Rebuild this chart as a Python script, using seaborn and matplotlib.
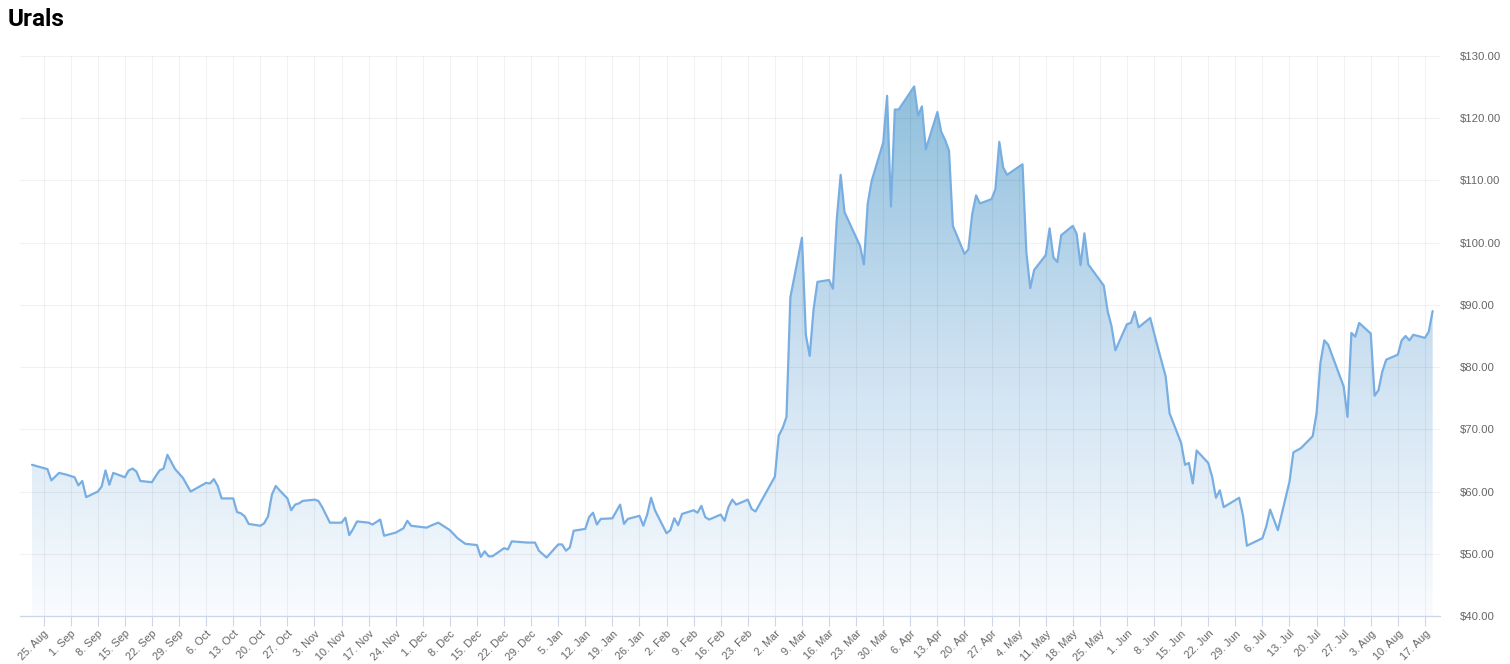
import numpy as np
import pandas as pd
import matplotlib
matplotlib.use("Agg")
import matplotlib.pyplot as plt
import matplotlib.dates as mdates
from matplotlib.colors import LinearSegmentedColormap
from matplotlib.patches import PathPatch
import seaborn as sns

# ---------------- data ----------------
title = "Urals"

dates = [
    # Aug / Sep 2021
    "2021-08-22", "2021-08-26", "2021-08-27", "2021-08-29", "2021-08-31",
    "2021-09-02", "2021-09-03", "2021-09-04", "2021-09-05", "2021-09-08",
    "2021-09-09", "2021-09-10", "2021-09-11", "2021-09-12", "2021-09-15",
    "2021-09-16", "2021-09-17", "2021-09-18", "2021-09-19", "2021-09-22",
    "2021-09-23", "2021-09-24", "2021-09-25", "2021-09-26", "2021-09-28",
    "2021-09-30",
    # Oct 2021
    "2021-10-02", "2021-10-04", "2021-10-06", "2021-10-07", "2021-10-08",
    "2021-10-09", "2021-10-10", "2021-10-13", "2021-10-14", "2021-10-15",
    "2021-10-16", "2021-10-17", "2021-10-20", "2021-10-21", "2021-10-22",
    "2021-10-23", "2021-10-24", "2021-10-25", "2021-10-27", "2021-10-28",
    "2021-10-29", "2021-10-30", "2021-10-31",
    # Nov 2021
    "2021-11-03", "2021-11-04", "2021-11-05", "2021-11-07", "2021-11-10",
    "2021-11-11", "2021-11-12", "2021-11-13", "2021-11-14", "2021-11-17",
    "2021-11-18", "2021-11-20", "2021-11-21", "2021-11-24", "2021-11-26",
    "2021-11-27", "2021-11-28",
    # Dec 2021
    "2021-12-02", "2021-12-03", "2021-12-05", "2021-12-08", "2021-12-10",
    "2021-12-12", "2021-12-15", "2021-12-16", "2021-12-17", "2021-12-18",
    "2021-12-19", "2021-12-22", "2021-12-23", "2021-12-24", "2021-12-28",
    "2021-12-30", "2021-12-31",
    # Jan 2022
    "2022-01-02", "2022-01-05", "2022-01-06", "2022-01-07", "2022-01-08",
    "2022-01-09", "2022-01-12", "2022-01-13", "2022-01-14", "2022-01-15",
    "2022-01-16", "2022-01-19", "2022-01-21", "2022-01-22", "2022-01-23",
    "2022-01-26", "2022-01-27", "2022-01-28", "2022-01-29", "2022-01-30",
    # Feb 2022
    "2022-02-02", "2022-02-03", "2022-02-04", "2022-02-05", "2022-02-06",
    "2022-02-09", "2022-02-10", "2022-02-11", "2022-02-12", "2022-02-13",
    "2022-02-16", "2022-02-17", "2022-02-18", "2022-02-19", "2022-02-20",
    "2022-02-23", "2022-02-24", "2022-02-25",
    # Mar 2022
    "2022-03-02", "2022-03-03", "2022-03-04", "2022-03-05", "2022-03-06",
    "2022-03-09", "2022-03-10", "2022-03-11", "2022-03-12", "2022-03-13",
    "2022-03-16", "2022-03-17", "2022-03-18", "2022-03-19", "2022-03-20",
    "2022-03-24", "2022-03-25", "2022-03-26", "2022-03-27", "2022-03-30",
    "2022-03-31",
    # Apr 2022
    "2022-04-01", "2022-04-02", "2022-04-03", "2022-04-07", "2022-04-08",
    "2022-04-09", "2022-04-10", "2022-04-13", "2022-04-14", "2022-04-15",
    "2022-04-16", "2022-04-17", "2022-04-20", "2022-04-21", "2022-04-22",
    "2022-04-23", "2022-04-24", "2022-04-27", "2022-04-28", "2022-04-29",
    "2022-04-30",
    # May 2022
    "2022-05-01", "2022-05-05", "2022-05-06", "2022-05-07", "2022-05-08",
    "2022-05-11", "2022-05-12", "2022-05-13", "2022-05-14", "2022-05-15",
    "2022-05-18", "2022-05-19", "2022-05-20", "2022-05-21", "2022-05-22",
    "2022-05-26", "2022-05-27", "2022-05-28", "2022-05-29",
    # Jun 2022
    "2022-06-01", "2022-06-02", "2022-06-03", "2022-06-04", "2022-06-07",
    "2022-06-09", "2022-06-11", "2022-06-12", "2022-06-15", "2022-06-16",
    "2022-06-17", "2022-06-18", "2022-06-19", "2022-06-22", "2022-06-23",
    "2022-06-24", "2022-06-25", "2022-06-26", "2022-06-30",
    # Jul 2022
    "2022-07-01", "2022-07-02", "2022-07-06", "2022-07-07", "2022-07-08",
    "2022-07-10", "2022-07-13", "2022-07-14", "2022-07-16", "2022-07-19",
    "2022-07-20", "2022-07-21", "2022-07-22", "2022-07-23", "2022-07-27",
    "2022-07-28", "2022-07-29", "2022-07-30", "2022-07-31",
    # Aug 2022
    "2022-08-03", "2022-08-04", "2022-08-05", "2022-08-06", "2022-08-07",
    "2022-08-10", "2022-08-11", "2022-08-12", "2022-08-13", "2022-08-14",
    "2022-08-17", "2022-08-18", "2022-08-19",
]

prices = [
    # Aug / Sep 2021
    64.3, 63.6, 61.8, 63.0, 62.7,
    62.3, 61.0, 61.7, 59.1, 60.0,
    60.8, 63.4, 61.1, 63.0, 62.3,
    63.4, 63.7, 63.2, 61.7, 61.5,
    62.5, 63.4, 63.7, 65.9, 63.6,
    62.2,
    # Oct 2021
    60.0, 60.7, 61.4, 61.3, 62.0,
    60.9, 58.9, 58.9, 56.7, 56.5,
    56.0, 54.8, 54.5, 54.9, 56.0,
    59.5, 60.9, 60.2, 58.9, 57.0,
    57.9, 58.1, 58.5,
    # Nov 2021
    58.7, 58.5, 57.5, 55.0, 55.0,
    55.8, 53.0, 54.0, 55.2, 55.0,
    54.7, 55.5, 52.9, 53.4, 54.1,
    55.3, 54.5,
    # Dec 2021
    54.2, 54.5, 55.0, 53.8, 52.5,
    51.6, 51.4, 49.5, 50.4, 49.6,
    49.6, 50.9, 50.7, 52.0, 51.8,
    51.8, 50.5,
    # Jan 2022
    49.4, 51.5, 51.5, 50.5, 51.0,
    53.7, 54.0, 55.9, 56.6, 54.7,
    55.6, 55.7, 57.9, 54.8, 55.6,
    56.1, 54.5, 56.3, 59.0, 57.0,
    # Feb 2022
    53.3, 53.8, 55.7, 54.6, 56.4,
    57.0, 56.6, 57.7, 55.9, 55.5,
    56.3, 55.3, 57.5, 58.7, 57.9,
    58.7, 57.2, 56.8,
    # Mar 2022
    62.4, 69.0, 70.2, 72.0, 91.2,
    100.8, 85.2, 81.8, 89.3, 93.7,
    94.0, 92.6, 103.8, 110.9, 104.9,
    99.5, 96.5, 106.3, 109.9, 116.1,
    123.6,
    # Apr 2022
    105.8, 121.4, 121.4, 125.1, 120.4,
    121.9, 115.0, 121.0, 117.8, 116.5,
    114.8, 102.7, 98.2, 98.9, 104.6,
    107.6, 106.3, 107.0, 108.6, 116.2,
    112.1,
    # May 2022
    110.9, 112.6, 98.4, 92.7, 95.6,
    98.0, 102.3, 97.6, 96.9, 101.2,
    102.7, 101.4, 96.4, 101.5, 96.5,
    93.1, 89.0, 86.6, 82.7,
    # Jun 2022
    86.9, 87.1, 88.9, 86.4, 87.9,
    83.1, 78.5, 72.6, 67.8, 64.3,
    64.6, 61.3, 66.6, 64.6, 62.4,
    59.0, 60.2, 57.5, 59.0,
    # Jul 2022
    56.1, 51.3, 52.5, 54.4, 57.1,
    53.8, 61.6, 66.3, 67.0, 68.9,
    72.6, 80.7, 84.3, 83.6, 76.9,
    72.0, 85.5, 84.9, 87.1,
    # Aug 2022
    85.4, 75.4, 76.3, 79.3, 81.2,
    82.0, 84.3, 85.0, 84.3, 85.2,
    84.7, 85.7, 89.0,
]

tick_start = "2021-08-25"
tick_end = "2022-08-17"
y_ticks = [40, 50, 60, 70, 80, 90, 100, 110, 120, 130]

# ---------------- style ----------------
sns.set_theme(style="white")
plt.rcParams["font.family"] = ["Liberation Sans", "DejaVu Sans"]

df = pd.DataFrame({"date": pd.to_datetime(dates), "price": prices})

W, H = 1510, 664
fig = plt.figure(figsize=(W / 100, H / 100), dpi=100)
fig.patch.set_facecolor("white")
ax = fig.add_axes([20 / W, 48 / H, 1420 / W, 560 / H])
ax.set_facecolor("white")

base = pd.Timestamp(tick_start)
xlim = (base - pd.Timedelta(days=6.1), base + pd.Timedelta(days=360.9))
ylim = (40, 130)

# gradient area fill
poly = ax.fill_between(df["date"], df["price"], ylim[0], color="none", lw=0)
clip = PathPatch(poly.get_paths()[0], transform=ax.transData, fc="none", ec="none")
ax.add_patch(clip)
xn = mdates.date2num(df["date"])
cmap = LinearSegmentedColormap.from_list(
    "urals", [(0.98, 0.988, 0.998), (0.80, 0.88, 0.945), (0.56, 0.75, 0.865)]
)
grad = np.linspace(0, 1, 256).reshape(-1, 1)
im = ax.imshow(grad, extent=[xn.min(), xn.max(), ylim[0], df["price"].max()],
               origin="lower", aspect="auto", cmap=cmap, zorder=1,
               interpolation="bilinear")
im.set_clip_path(clip)

sns.lineplot(data=df, x="date", y="price", ax=ax, color="#78aee2",
             linewidth=1.6, zorder=3)

ax.set_xlim(xlim)
ax.set_ylim(ylim)

# grid
ax.set_axisbelow(False)
ax.grid(True, color="black", alpha=0.05, linewidth=0.8)

# x ticks
xt = pd.date_range(tick_start, tick_end, freq="7D")
ax.set_xticks(xt)
ax.set_xticklabels([f"{d.day}. {d.strftime('%b')}" for d in xt],
                   rotation=45, ha="right", va="top", rotation_mode="anchor")
ax.tick_params(axis="x", length=7, width=0.8, color="#ccd6eb",
               labelsize=7.9, labelcolor="#666666", pad=2, bottom=True)

# y ticks on right
ax.yaxis.tick_right()
ax.set_yticks(y_ticks)
ax.set_yticklabels([f"${v:.2f}" for v in y_ticks])
ax.tick_params(axis="y", length=0, labelsize=8.2, labelcolor="#666666", pad=14)

ax.set_xlabel("")
ax.set_ylabel("")
for s in ["top", "left", "right"]:
    ax.spines[s].set_visible(False)
ax.spines["bottom"].set_color("#ccd6eb")
ax.spines["bottom"].set_linewidth(0.9)
ax.spines["bottom"].set_zorder(4)

fig.text(8 / W, 1 - 8 / H, title, fontsize=17.5, fontweight="bold",
         family=["Roboto", "DejaVu Sans"], color="#000000", ha="left", va="top")

fig.savefig("out.png", dpi=100, facecolor="white")
